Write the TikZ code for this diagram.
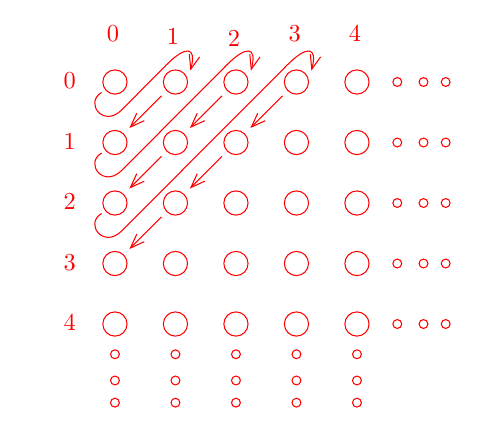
\documentclass[tikz,border=0pt]{standalone}
\usetikzlibrary{arrows.meta}
\begin{document}
\begin{tikzpicture}[line width=0.75pt, red,
  big/.style={draw, circle, minimum size=0.6cm, inner sep=0pt},
  small/.style={draw, circle, minimum size=0.22cm, inner sep=0pt},
  lbl/.style={scale=1.72, transform shape},
  >={Straight Barb[length=10pt, width=7.5pt]}]
  \useasboundingbox (-2.85,-8.505) rectangle (9.373,2.033);
  % the grid
  \foreach \i in {0,...,4}
    \foreach \j in {0,...,4}
      \node[big] (n\i\j) at (1.5*\i,-1.5*\j) {};
  % labels
  \foreach \j in {0,...,4}
    \node[lbl] (row\j) at (-1.12,-1.5*\j+0.03) {$\j$};
  \foreach \c/\x/\y in {0/-0.05/1.21, 1/1.44/1.12, 2/2.95/1.08, 3/4.46/1.19, 4/5.95/1.2}
    \node[lbl] (col\c) at (\x,\y) {$\c$};
  % dots
  \foreach \j in {0,...,4}
    \foreach \x [count=\k] in {7.0,7.65,8.2}
      \node[small] (r\j\k) at (\x,-1.5*\j) {};
  \foreach \i in {0,...,4}
    \foreach \y [count=\k] in {6.75,7.4,7.95}
      \node[small] (d\i\k) at (1.5*\i,-\y) {};
  % straight steps
  \foreach \s/\t in {10/01, 20/11, 11/02, 30/21, 21/12, 12/03}
    \draw[->, shorten <=5pt, shorten >=5.5pt] (n\s) -- (n\t);
  % jumps back to the top row
  \foreach \k [evaluate=\k as \m using int(\k-1)] in {1,2,3}
    \draw[->] ([shift={(-0.33,-0.26)}]n0\m.center)
      .. controls +(210:0.5) and +(225:0.65) .. ([shift={(0.17,-0.69)}]n0\m.center)
      -- ([shift={(-0.22,0.43)}]n\k0.center)
      .. controls +(45:0.65) and +(75:0.65) .. ([shift={(0.37,0.28)}]n\k0.center);
\end{tikzpicture}
\end{document}
